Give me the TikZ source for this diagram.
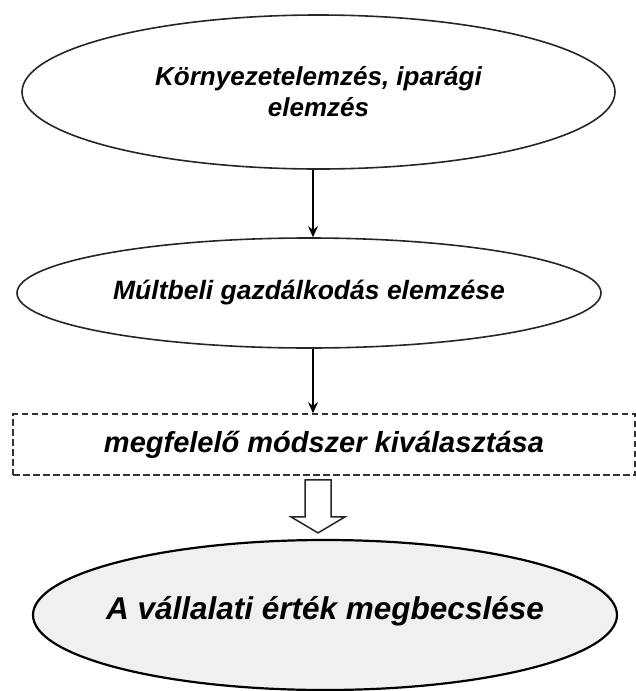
\documentclass[tikz,border=0pt]{standalone}
\usepackage{fontspec}
\setmainfont{Liberation Sans}
\usetikzlibrary{shapes.geometric,calc,arrows.meta}
\begin{document}
\begin{tikzpicture}[x=1pt,y=-1pt,
  oval/.style={ellipse,draw=black!85,line width=1.6pt,inner sep=0pt},
  txt/.style={align=center,inner sep=0pt},
  conn/.style={-{Stealth[length=11pt,width=10pt]},line width=1.6pt},
  dbox/.style={draw=black!80,dash pattern=on 6.5pt off 3.5pt,line width=1.6pt,inner sep=0pt}]
\useasboundingbox (0,0) rectangle (636,691);
\node[oval,minimum width=593pt,minimum height=154pt] (e1) at (318.5,92) {};
\node[txt,font=\fontsize{26}{31}\selectfont\bfseries\itshape] (t1) at (e1.center) {Környezetelemzés, iparági\\elemzés};
\node[oval,minimum width=584pt,minimum height=110pt] (e2) at (309,293) {};
\node[txt,font=\fontsize{26.5}{30}\selectfont\bfseries\itshape] (t2) at (e2.center) {Múltbeli gazdálkodás elemzése};
\node[dbox,minimum width=622pt,minimum height=61pt,font=\fontsize{29}{32}\selectfont\bfseries\itshape] (b) at (324,444.5) {megfelelő módszer kiválasztása};
\node[oval,draw=black,line width=2.2pt,fill=black!6,minimum width=584pt,minimum height=150pt] (e3) at (325,615) {};
\node[txt,font=\fontsize{31.5}{36}\selectfont\bfseries\itshape] (t3) at ($(e3.center)+(0,-4)$) {A vállalati érték megbecslése};
\coordinate (c1) at (313,0);
\draw[conn] (e1.south -| c1) -- (e2.north -| c1);
\draw[conn] (e2.south -| c1) -- (b.north -| c1);
\coordinate (t0) at ($(b.south -| 318,0)+(0,4)$);
\coordinate (tip) at ($(e3.north -| 318,0)+(0,-6)$);
\draw[line width=1.5pt,draw=black!85,fill=white] ($(t0)+(-13,0)$) -- ($(t0)+(13,0)$) -- ($(tip)+(13,-16)$) -- ($(tip)+(27,-16)$) -- (tip) -- ($(tip)+(-27,-16)$) -- ($(tip)+(-13,-16)$) -- cycle;
\end{tikzpicture}
\end{document}
